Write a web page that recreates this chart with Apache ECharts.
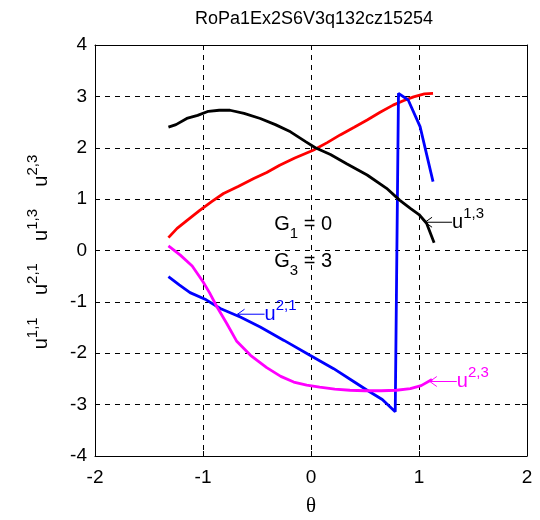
<!DOCTYPE html>
<html><head><meta charset="utf-8">
<script src="https://cdn.jsdelivr.net/npm/echarts@6/dist/echarts.min.js"></script>
<style>html,body{margin:0;padding:0;background:#fff}#c{width:540px;height:520px}</style>
</head><body><div id="c"></div>
<script>
var title = 'RoPa1Ex2S6V3q132cz15254';
var xTicks = [-2, -1, 0, 1, 2];
var yTicks = [-4, -3, -2, -1, 0, 1, 2, 3, 4];

var u11_x = [-1.32,-1.24,-1.15,-1.03,-0.92,-0.81,-0.67,-0.53,-0.41,-0.29,-0.15,0.02,0.15,0.27,0.40,0.52,0.64,0.76,0.86,0.95,1.05,1.13];
var u11_y = [0.25,0.43,0.58,0.78,0.95,1.11,1.25,1.40,1.52,1.66,1.80,1.95,2.10,2.25,2.40,2.54,2.69,2.83,2.92,2.99,3.05,3.06];

var u21_x = [-1.32,-1.22,-1.12,-0.97,-0.84,-0.65,-0.47,-0.25,-0.01,0.21,0.38,0.52,0.66,0.78,0.81,0.90,1.01,1.13];
var u21_y = [-0.51,-0.67,-0.82,-0.96,-1.13,-1.30,-1.49,-1.75,-2.04,-2.30,-2.53,-2.72,-2.90,-3.14,3.06,2.93,2.41,1.34];

var u13_x = [-1.32,-1.25,-1.15,-1.05,-0.95,-0.85,-0.75,-0.62,-0.47,-0.33,-0.19,-0.05,0.04,0.18,0.33,0.52,0.70,0.82,0.92,1.00,1.07,1.14];
var u13_y = [2.40,2.45,2.57,2.63,2.71,2.73,2.73,2.67,2.57,2.45,2.31,2.12,2.00,1.87,1.69,1.47,1.21,0.98,0.82,0.70,0.53,0.15];

var u23_x = [-1.32,-1.21,-1.10,-1.00,-0.94,-0.87,-0.78,-0.69,-0.56,-0.41,-0.28,-0.16,-0.04,0.08,0.22,0.36,0.50,0.65,0.79,0.92,1.02,1.12];
var u23_y = [0.09,-0.09,-0.30,-0.61,-0.82,-1.10,-1.42,-1.76,-2.04,-2.28,-2.45,-2.56,-2.62,-2.66,-2.70,-2.72,-2.73,-2.73,-2.72,-2.69,-2.63,-2.51];

var G1 = 0, G3 = 3;
var annotations = [
  {name: 'u', sup: '1,3', color: '#000000', tip: [1.056, 0.55]},
  {name: 'u', sup: '2,1', color: '#0000ff', tip: [-0.68, -1.24]},
  {name: 'u', sup: '2,3', color: '#ff00ff', tip: [1.10, -2.55]}
];

function zip(a, b) { return a.map(function (v, i) { return [v, b[i]]; }); }

var FONT = '"Liberation Sans", Arial, sans-serif';
var chart = echarts.init(document.getElementById('c'), null, {renderer: 'canvas'});

function axisBase(pos, showLabel, isX) {
  return {
    type: 'value', position: pos,
    min: isX ? xTicks[0] : yTicks[0],
    max: isX ? xTicks[xTicks.length - 1] : yTicks[yTicks.length - 1],
    interval: 1,
    axisLine: {show: true, onZero: false, lineStyle: {color: '#000', width: 1}},
    axisTick: {show: true, inside: true, length: 5, lineStyle: {color: '#000'}},
    axisLabel: {show: showLabel, color: '#000', fontSize: 19, fontFamily: FONT, margin: isX ? 12 : 8},
    splitLine: {show: showLabel, lineStyle: {color: '#000', type: [5, 5], width: 1}}
  };
}

var xA = axisBase('bottom', true, true);
var xB = axisBase('top', false, true);
var yA = axisBase('left', true, false);
var yB = axisBase('right', false, false);

function ser(x, y, color) {
  return {type: 'line', data: zip(x, y), showSymbol: false, symbol: 'none',
    lineStyle: {color: color, width: 2.8}, itemStyle: {color: color}, animation: false,
    xAxisIndex: 0, yAxisIndex: 0};
}

chart.setOption({
  animation: false,
  grid: {left: 95, right: 13, top: 45, bottom: 64, containLabel: false},
  xAxis: [xA, xB],
  yAxis: [yA, yB],
  series: [
    ser(u11_x, u11_y, '#ff0000'),
    ser(u21_x, u21_y, '#0000ff'),
    ser(u13_x, u13_y, '#000000'),
    ser(u23_x, u23_y, '#ff00ff')
  ]
});

var gfx = [];
var rich = {
  b: {fontSize: 20, fontFamily: FONT, verticalAlign: 'bottom', lineHeight: 26},
  s: {fontSize: 15, fontFamily: FONT, verticalAlign: 'top', lineHeight: 26},
  sb: {fontSize: 15, fontFamily: FONT, verticalAlign: 'bottom', lineHeight: 32, padding: [0,0,-7,0]}
};

// Title
gfx.push({type: 'text', x: 314, y: 19, z: 100,
  style: {text: title, fontSize: 18, fontFamily: FONT, fill: '#000', align: 'center', verticalAlign: 'middle'}});

// Annotations with arrows
annotations.forEach(function (a) {
  var p = chart.convertToPixel({gridIndex: 0}, a.tip);
  var len = 27;
  gfx.push({type: 'line', shape: {x1: p[0], y1: p[1], x2: p[0] + len, y2: p[1]}, style: {stroke: a.color, lineWidth: 1}, z: 100});
  gfx.push({type: 'polyline', shape: {points: [[p[0] + 7, p[1] - 5], [p[0], p[1]], [p[0] + 7, p[1] + 5]]}, style: {stroke: a.color, lineWidth: 1, fill: null}, z: 100});
  gfx.push({type: 'text', x: p[0] + len, y: p[1] - 16, z: 100,
    style: {text: '{b|' + a.name + '}{s|' + a.sup + '}', rich: rich, fill: a.color}});
});

// G labels
var gp = chart.convertToPixel({gridIndex: 0}, [-0.34, 0.62]);
gfx.push({type: 'text', x: gp[0], y: gp[1] - 16, z: 100,
  style: {text: '{b|G}{sb|1}{b| = ' + G1 + '}', rich: rich, fill: '#000'}});
var gp2 = chart.convertToPixel({gridIndex: 0}, [-0.34, -0.1]);
gfx.push({type: 'text', x: gp2[0], y: gp2[1] - 16, z: 100,
  style: {text: '{b|G}{sb|3}{b| = ' + G3 + '}', rich: rich, fill: '#000'}});

// Y label (rotated)
var ylabel = '{b|u}{s|1,1}{b|    u}{s|2,1}{b|    u}{s|1,3}{b|    u}{s|2,3}';
gfx.push({type: 'text', x: 38, y: 252, rotation: Math.PI / 2, z: 100,
  style: {text: ylabel, rich: rich, fill: '#000', align: 'center', verticalAlign: 'middle'}});

// X label
gfx.push({type: 'text', x: 311, y: 506, z: 100,
  style: {text: 'θ', fontSize: 21, fontFamily: '"Liberation Serif", "Times New Roman", serif', fill: '#000', align: 'center', verticalAlign: 'middle'}});

chart.setOption({graphic: gfx});
</script></body></html>
